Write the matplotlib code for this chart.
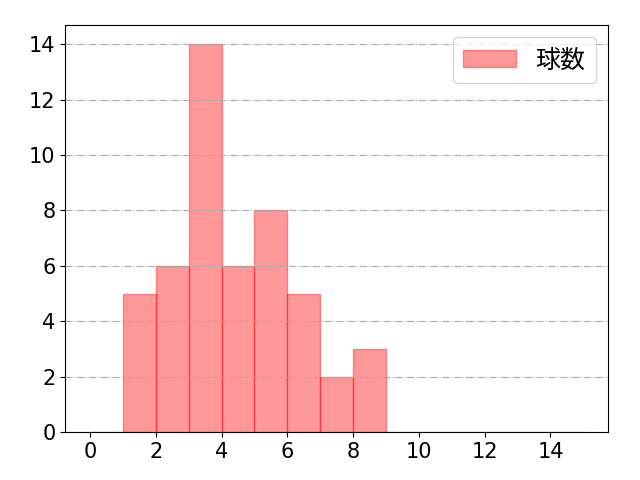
import numpy as np
import matplotlib
matplotlib.use("Agg")
import matplotlib.pyplot as plt

plt.rcParams["font.family"] = ["DejaVu Sans", "Noto Sans CJK JP"]
plt.rcParams["font.size"] = 15

# ビンの左端と各ビンの件数
bin_edges = list(range(0, 16))
counts = [0, 5, 6, 14, 6, 8, 5, 2, 3, 0, 0, 0, 0, 0, 0]
label = "球数"

fig, ax = plt.subplots(figsize=(6.4, 4.8), dpi=100)
ax.bar(bin_edges[:-1], counts, width=1, align="edge",
       color="red", alpha=0.4, edgecolor="red", linewidth=1, label=label)
ax.set_xlim(-0.75, 15.75)
ax.set_xticks(range(0, 16, 2))
ax.set_yticks(range(0, 15, 2))
ax.grid(axis="y", linestyle="-.", color="#aaaaaa", linewidth=0.8)
ax.legend(loc="upper right", prop={"family": ["Noto Sans CJK JP"], "size": 18},
          handlelength=2.1)
fig.subplots_adjust(left=0.102, right=0.95, top=0.948, bottom=0.1)
plt.savefig("out.png")
